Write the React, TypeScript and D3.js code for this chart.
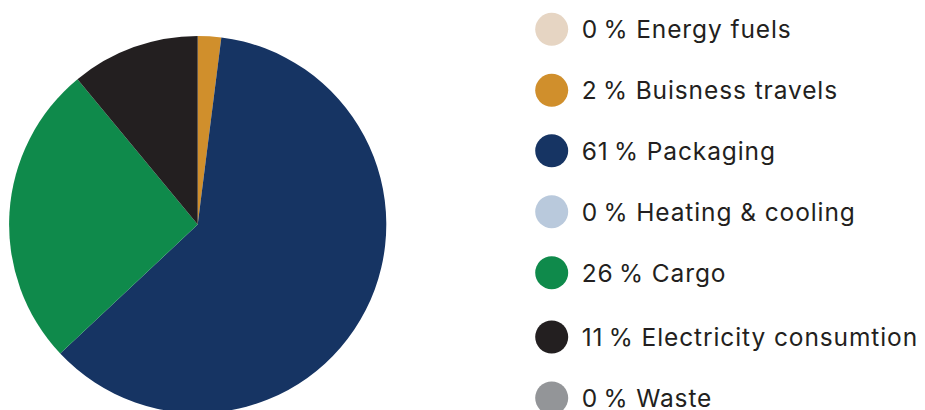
import React from "react";
import * as d3 from "d3";

const categories = ["Energy fuels", "Buisness travels", "Packaging", "Heating & cooling", "Cargo", "Electricity consumtion", "Waste"];
const values = [0, 2, 61, 0, 26, 11, 0];
const colors = ["#e6d5c3", "#d08f2c", "#163463", "#b9c9dc", "#0f8a4b", "#231f20", "#939598"];
const legendY = [29.3, 90.3, 150.8, 211.7, 272.7, 337, 398];

const W = 925;
const H = 410;

export default function App() {
  const cx = 197.7;
  const cy = 224.5;
  const r = 188.6;
  const pie = d3.pie<number>().sort(null).value((d) => d)(values);
  const arc = d3.arc<d3.PieArcDatum<number>>().innerRadius(0).outerRadius(r);
  return (
    <svg width={W} height={H} style={{ position: "absolute", left: 0, top: 0, fontFamily: "Inter, 'Noto Sans', sans-serif" }}>
      <g transform={`translate(${cx},${cy})`}>
        {pie.map((p, i) => (p.value > 0 ? <path key={i} d={arc(p) || ""} fill={colors[i]} /> : null))}
      </g>
      {categories.map((c, i) => (
        <g key={c} transform={`translate(551.7,${legendY[i]})`}>
          <circle r={16.5} fill={colors[i]} />
          <text x={30} y={0} dy="0.36em" fontSize={24.5} letterSpacing={0.9} fill="#231f20">
            {`${values[i]}\u2009% ${c}`}
          </text>
        </g>
      ))}
    </svg>
  );
}
